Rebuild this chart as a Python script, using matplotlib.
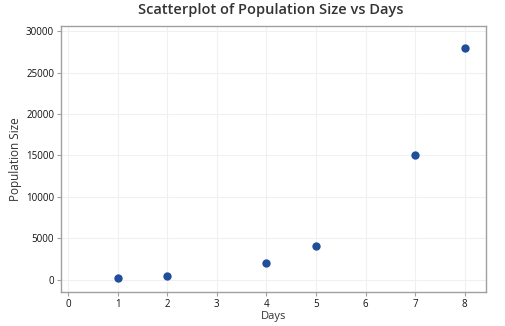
import matplotlib
matplotlib.use("Agg")
import matplotlib.pyplot as plt

days = [1, 2, 4, 5, 7, 8]
population = [250, 500, 2000, 4100, 15000, 28000]
xticks = [0, 1, 2, 3, 4, 5, 6, 7, 8]
yticks = [0, 5000, 10000, 15000, 20000, 25000, 30000]

plt.rcParams['font.family'] = ['Open Sans', 'DejaVu Sans']

fig = plt.figure(figsize=(5.06, 3.26), dpi=100)
ax = fig.add_axes([0.1206, 0.105, 0.84, 0.815])

ax.scatter(days, population, s=36, color='#1f4e9a', zorder=3, linewidths=0)

ax.set_xlim(-0.14, 8.43)
ax.set_ylim(-1440, 30600)
ax.set_xticks(xticks)
ax.set_yticks(yticks)
ax.grid(True, color='#f0f0f0', linewidth=0.8)
ax.set_axisbelow(True)
for s in ax.spines.values():
    s.set_color('#a0a0a0')
    s.set_linewidth(1.0)
ax.tick_params(labelsize=7, colors='#a0a0a0', labelcolor='#111111', length=3, width=0.8, pad=2)

ax.set_xlabel('Days', fontsize=8, color='#333333', labelpad=1)
ax.set_ylabel('Population Size', fontsize=8.5, color='#333333', labelpad=3)
fig.suptitle('Scatterplot of Population Size vs Days', fontsize=10.5,
             color='#333333', y=0.99, x=0.535, fontweight='semibold')

fig.savefig('out.png', dpi=100, facecolor='white')
